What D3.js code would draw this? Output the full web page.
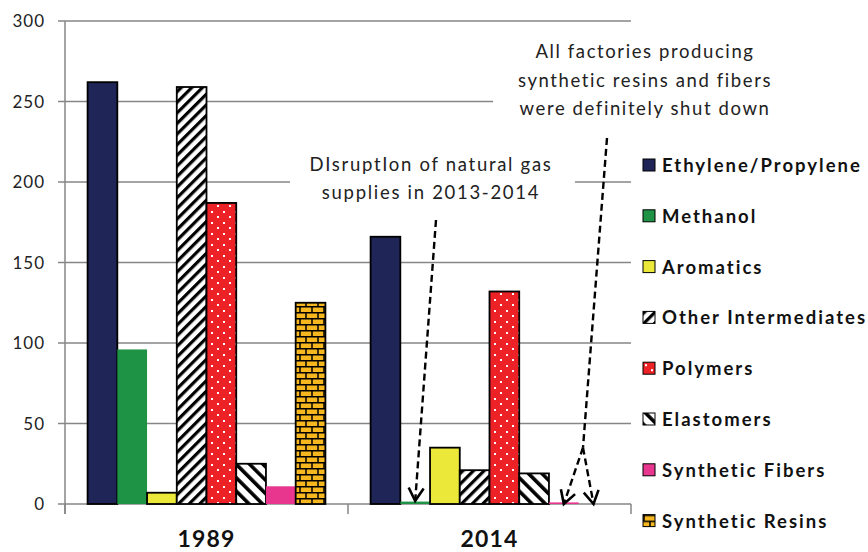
<!DOCTYPE html>
<html>
<head>
<meta charset="utf-8">
<script src="https://cdn.jsdelivr.net/npm/d3@7"></script>
<style>
  body { margin: 0; background: #fff; }
  text { font-family: Lato, "Noto Sans", sans-serif; }
</style>
</head>
<body>
<svg id="chart" width="868" height="552"></svg>
<script>
// data
var years = ["1989", "2014"];
var series = ["Ethylene/Propylene", "Methanol", "Aromatics", "Other Intermediates",
              "Polymers", "Elastomers", "Synthetic Fibers", "Synthetic Resins"];
var values1989 = [262, 96, 7, 259, 187, 25, 11, 125];
var values2014 = [166, 1.5, 35, 21, 132, 19, 1, 0];
var yTicks = [0, 50, 100, 150, 200, 250, 300];

var noteGas = ["DIsruptIon of natural gas", "supplies in 2013-2014"];
var noteShut = ["All factories producing", "synthetic resins and fibers", "were definitely shut down"];

// fill / stroke per series
var fills = ["#1f2557", "#1e9245", "#ece83a", "url(#p-other)",
             "url(#p-poly)", "url(#p-elast)", "#e8368f", "url(#p-brick)"];
var strokes = ["#000", "none", "#000", "#000", "#000", "#000", "none", "#000"];

var svg = d3.select("#chart");
var margin = { left: 65, right: 631, top: 21, bottom: 504 };

var x0 = d3.scaleBand().domain(years).range([margin.left, margin.right]);
var x1 = d3.scaleBand().domain(series).range([0, x0.bandwidth()])
           .paddingInner(0).paddingOuter(0.76);
var y = d3.scaleLinear().domain([0, 300]).range([margin.bottom, margin.top]);

/// patterns
var defs = svg.append("defs");

var pOther = defs.append("pattern").attr("id", "p-other")
  .attr("patternUnits", "userSpaceOnUse").attr("width", 7.5).attr("height", 7.5)
  .attr("patternTransform", "rotate(45)");
pOther.append("rect").attr("width", 7.5).attr("height", 7.5).attr("fill", "#fff");
pOther.append("rect").attr("width", 3.2).attr("height", 7.5).attr("fill", "#000");

var pElast = defs.append("pattern").attr("id", "p-elast")
  .attr("patternUnits", "userSpaceOnUse").attr("width", 9.5).attr("height", 9.5)
  .attr("patternTransform", "rotate(-45)");
pElast.append("rect").attr("width", 9.5).attr("height", 9.5).attr("fill", "#fff");
pElast.append("rect").attr("width", 3.6).attr("height", 9.5).attr("fill", "#000");

var pPoly = defs.append("pattern").attr("id", "p-poly")
  .attr("patternUnits", "userSpaceOnUse").attr("width", 12).attr("height", 11);
pPoly.append("rect").attr("width", 12).attr("height", 11).attr("fill", "#ec2227");
pPoly.append("rect").attr("x", 2).attr("y", 2).attr("width", 2).attr("height", 2).attr("fill", "#fff");
pPoly.append("rect").attr("x", 8).attr("y", 7).attr("width", 2).attr("height", 2).attr("fill", "#fff");

var pBrick = defs.append("pattern").attr("id", "p-brick")
  .attr("patternUnits", "userSpaceOnUse").attr("width", 12).attr("height", 12);
pBrick.append("rect").attr("width", 12).attr("height", 12).attr("fill", "#f6b81e");
pBrick.append("path")
  .attr("d", "M0,0.75H12M0,6.75H12M1,0V6M7,6V12")
  .attr("stroke", "#000").attr("stroke-width", 1.5).attr("fill", "none");

var arrowMark = defs.append("marker").attr("id", "arrow")
  .attr("viewBox", "-16 -12 24 24").attr("markerWidth", 24).attr("markerHeight", 24)
  .attr("markerUnits", "userSpaceOnUse").attr("orient", "auto");
arrowMark.append("path").attr("d", "M-13,-7.5L0,0L-13,7.5")
  .attr("fill", "none").attr("stroke", "#000").attr("stroke-width", 2.6);

/// gridlines + axes
var grey = "#868686";
svg.append("g").selectAll("line.grid")
  .data(yTicks).enter().append("line")
    .attr("class", "grid")
    .attr("x1", margin.left - 7).attr("x2", margin.right)
    .attr("y1", function(d) { return y(d); })
    .attr("y2", function(d) { return y(d); })
    .attr("stroke", grey).attr("stroke-width", 1.5);

svg.append("line")
  .attr("x1", margin.left).attr("x2", margin.left)
  .attr("y1", margin.top).attr("y2", margin.bottom + 10)
  .attr("stroke", grey).attr("stroke-width", 1.5);

svg.append("g").selectAll("line")
  .data(years.concat(["end"])).enter().append("line")
    .attr("x1", function(d) { return d === "end" ? margin.right : x0(d); })
    .attr("x2", function(d) { return d === "end" ? margin.right : x0(d); })
    .attr("y1", margin.bottom).attr("y2", margin.bottom + 10)
    .attr("stroke", grey).attr("stroke-width", 1.5);

svg.append("g").selectAll("text")
  .data(yTicks).enter().append("text")
    .attr("x", 45).attr("y", function(d) { return y(d) + 6; })
    .attr("text-anchor", "end")
    .attr("font-size", 17).attr("letter-spacing", 1).attr("fill", "#222")
    .text(function(d) { return d; });

svg.append("g").selectAll("text")
  .data(years).enter().append("text")
    .attr("x", function(d) { return x0(d) + x0.bandwidth() / 2; })
    .attr("y", 547)
    .attr("text-anchor", "middle")
    .attr("font-size", 23).attr("font-weight", "bold").attr("letter-spacing", 1.2)
    .attr("fill", "#111")
    .text(function(d) { return d; });

/// white boxes behind the notes (they hide the gridlines)
svg.append("rect").attr("x", 290).attr("y", 146).attr("width", 285).attr("height", 62).attr("fill", "#fff");
svg.append("rect").attr("x", 493).attr("y", 32).attr("width", 290).attr("height", 92).attr("fill", "#fff");

/// bars
var rows = years.map(function(yr, i) {
  var vals = i === 0 ? values1989 : values2014;
  return series.map(function(s, j) { return { year: yr, name: s, value: vals[j], idx: j }; });
});

svg.append("g").selectAll("g")
  .data(rows).enter().append("g")
    .attr("transform", function(d) { return "translate(" + x0(d[0].year) + ",0)"; })
  .selectAll("rect")
    .data(function(d) { return d.filter(function(e) { return e.value > 0; }); })
    .enter().append("rect")
      .attr("x", function(d) { return x1(d.name); })
      .attr("y", function(d) { return y(d.value); })
      .attr("width", x1.bandwidth())
      .attr("height", function(d) { return y(0) - y(d.value); })
      .attr("fill", function(d) { return fills[d.idx]; })
      .attr("stroke", function(d) { return d.value < 3 ? "none" : strokes[d.idx]; })
      .attr("stroke-width", 1.8);

/// notes
svg.append("text").attr("text-anchor", "middle").attr("font-size", 18.5)
   .attr("letter-spacing", 1.7).attr("fill", "#222")
  .selectAll("tspan").data(noteGas).enter().append("tspan")
    .attr("x", 431).attr("y", function(d, i) { return 171 + i * 28; })
    .text(function(d) { return d; });

svg.append("text").attr("text-anchor", "middle").attr("font-size", 18.5)
   .attr("letter-spacing", 1.6).attr("fill", "#222")
  .selectAll("tspan").data(noteShut).enter().append("tspan")
    .attr("x", 645).attr("y", function(d, i) { return 58 + i * 28.5; })
    .text(function(d) { return d; });

/// dashed arrows, ends anchored on the bars they point at
var xc = function(yr, s) { return x0(yr) + x1(s) + x1.bandwidth() / 2; };
var dash = "7,4";

svg.append("line")
  .attr("x1", 436).attr("y1", 220)
  .attr("x2", xc("2014", "Methanol")).attr("y2", y(0) - 3)
  .attr("stroke", "#000").attr("stroke-width", 2.4).attr("stroke-dasharray", dash)
  .attr("marker-end", "url(#arrow)");

var apex = [583, y(35)];
svg.append("line")
  .attr("x1", 607).attr("y1", 138).attr("x2", apex[0]).attr("y2", apex[1])
  .attr("stroke", "#000").attr("stroke-width", 2.4).attr("stroke-dasharray", dash);
["Synthetic Fibers", "Synthetic Resins"].forEach(function(s) {
  svg.append("line")
    .attr("x1", apex[0]).attr("y1", apex[1])
    .attr("x2", xc("2014", s)).attr("y2", y(0))
    .attr("stroke", "#000").attr("stroke-width", 2.4).attr("stroke-dasharray", dash)
    .attr("marker-end", "url(#arrow)");
});

/// legend
var legend = svg.append("g").selectAll("g")
  .data(series).enter().append("g")
    .attr("transform", function(d, i) { return "translate(643," + (159 + i * 50.8) + ")"; });
legend.append("rect")
  .attr("width", 12).attr("height", 12)
  .attr("fill", function(d, i) { return fills[i]; })
  .attr("stroke", "#000").attr("stroke-width", 1);
legend.append("text")
  .attr("x", 19).attr("y", 13)
  .attr("font-size", 18.5).attr("font-weight", "bold").attr("letter-spacing", 2)
  .attr("fill", "#111")
  .text(function(d) { return d; });
</script>
</body>
</html>
